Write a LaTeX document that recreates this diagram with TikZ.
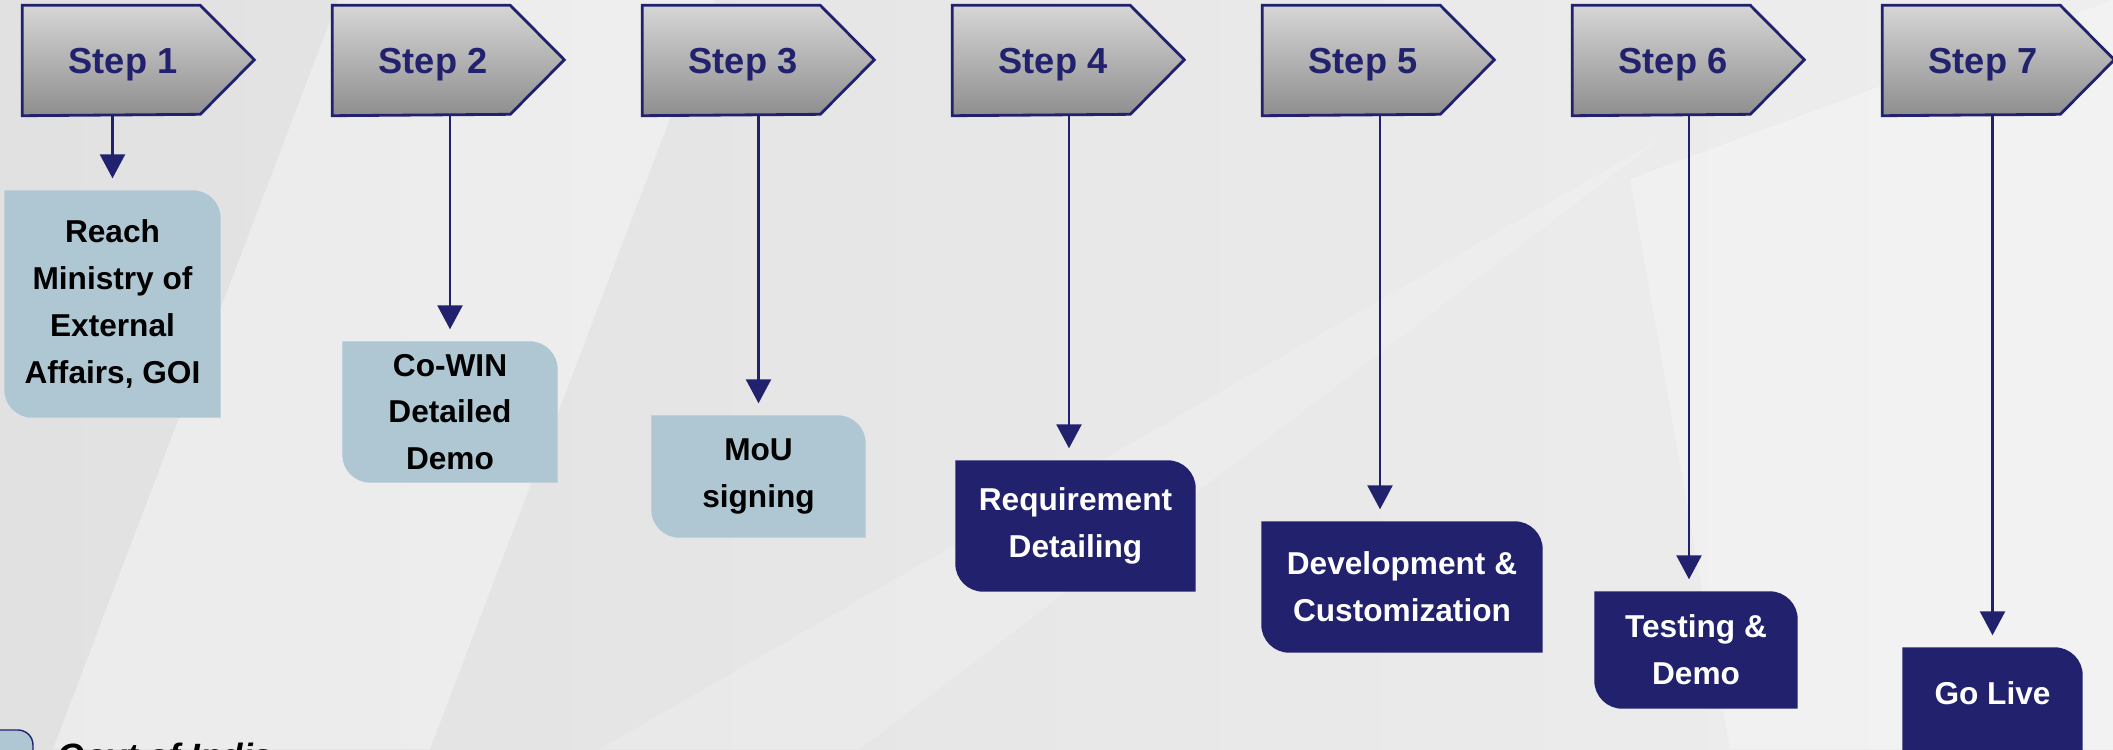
\documentclass[tikz,border=0pt]{standalone}
\usepackage{fontspec}
\setmainfont{Liberation Sans}
\usetikzlibrary{arrows.meta}

\definecolor{navy}{HTML}{21216E}
\definecolor{paleblue}{HTML}{AFC6D3}
\definecolor{steptop}{HTML}{D6D6D6}
\definecolor{stepbot}{HTML}{8E8E8E}
\definecolor{bgleft}{HTML}{E1E1E2}
\definecolor{bgright}{HTML}{EEEEEF}

\pgfdeclarelayer{back}
\pgfsetlayers{back,main}

\tikzset{
  stepnode/.style={minimum width=2cm, minimum height=1.09cm, inner sep=0pt, text depth=0pt,
    text=navy, font=\bfseries\fontsize{10.3}{12}\selectfont},
  stepshape/.style={draw=navy, line width=0.8pt, top color=steptop, bottom color=stepbot},
  boxnode/.style={inner sep=0pt, align=center, font=\bfseries\fontsize{9}{13.3}\selectfont},
  flow/.style={draw=navy, line width=0.7pt, -{Triangle[width=2.5mm,length=2.4mm]}, shorten >=1.2mm},
}

\begin{document}
\begin{tikzpicture}

      \useasboundingbox (0,0) rectangle (21.13,7.49);

      \begin{pgfonlayer}{back}
        \shade[left color=bgleft, right color=bgright] (0,0) rectangle (21.13,7.49); % backdrop
        \fill[white, opacity=0.35] (0.53,0) -- (4.30,0) -- (7.15,7.49) -- (3.38,7.49) -- cycle;
        \fill[white, opacity=0.18] (6.0,0) -- (8.6,0) -- (16.6,6.1) -- cycle;
        \fill[white, opacity=0.28] (16.3,5.7) -- (21.13,7.49) -- (21.13,0) -- (17.3,0) -- cycle;
      \end{pgfonlayer}

      % steps along the top
      \foreach \n in {1,...,7} {
          \node[stepnode] (s\n) at ({1.23+3.1*(\n-1)},6.885) {Step \n};
          \begin{pgfonlayer}{back}
            \draw[stepshape] (s\n.north west) -- ++(1.78,0) -- ++(0.54,-0.545)
                -- ++(-0.54,-0.545) -- (s\n.south west) -- cycle;
          \end{pgfonlayer}
      }

      % boxes under the steps
      \foreach \n/\cx/\cy/\w/\h/\fc/\tc/\dx/\ext/\txt in {
          1/1.125/4.45/2.15/2.26/paleblue/black/0/0/{Reach\\Ministry of\\External\\Affairs, GOI},
          2/4.50/3.37/2.14/1.40/paleblue/black/0/0/{Co-WIN\\Detailed\\Demo},
          3/7.585/2.725/2.13/1.21/paleblue/black/0/0/{MoU\\signing},
          4/10.755/2.23/2.39/1.30/navy/white/-0.065/0/{Requirement\\Detailing},
          5/14.02/1.62/2.80/1.30/navy/white/-0.22/0/{Development \&\\Customization},
          6/16.96/0.99/2.02/1.16/navy/white/-0.07/0/{Testing \&\\Demo},
          7/19.925/0.56/1.79/0.90/navy/white/0/0.4/{Go Live}} {
          \node[boxnode, text=\tc, minimum width=\w cm, minimum height=\h cm] (b\n) at (\cx,\cy) {\txt};
          \begin{pgfonlayer}{back}
            \fill[\fc] (b\n.north west) -- ([xshift=-2.8mm]b\n.north east)
                arc[start angle=90, end angle=0, radius=2.8mm]
                -- ([yshift=-\ext cm]b\n.south east) -- ([xshift=2.8mm, yshift=-\ext cm]b\n.south west)
                arc[start angle=270, end angle=180, radius=2.8mm] -- cycle;
          \end{pgfonlayer}
          \draw[flow] ([xshift=\dx cm]b\n.north |- s\n.south) -- ([xshift=\dx cm]b\n.north);
      }

      % key, cut off by the bottom edge
      \filldraw[fill=paleblue, draw=navy, line width=0.4pt] (-0.3,-0.3) -- (-0.3,0.19) -- (0.18,0.19)
          arc[start angle=90, end angle=0, radius=0.15] -- (0.33,-0.3) -- cycle;
      \node[anchor=base west, inner sep=0pt, font=\bfseries\itshape\fontsize{10}{12}\selectfont] (govt) at (0.57,-0.19) {Govt of India};

\end{tikzpicture}
\end{document}
